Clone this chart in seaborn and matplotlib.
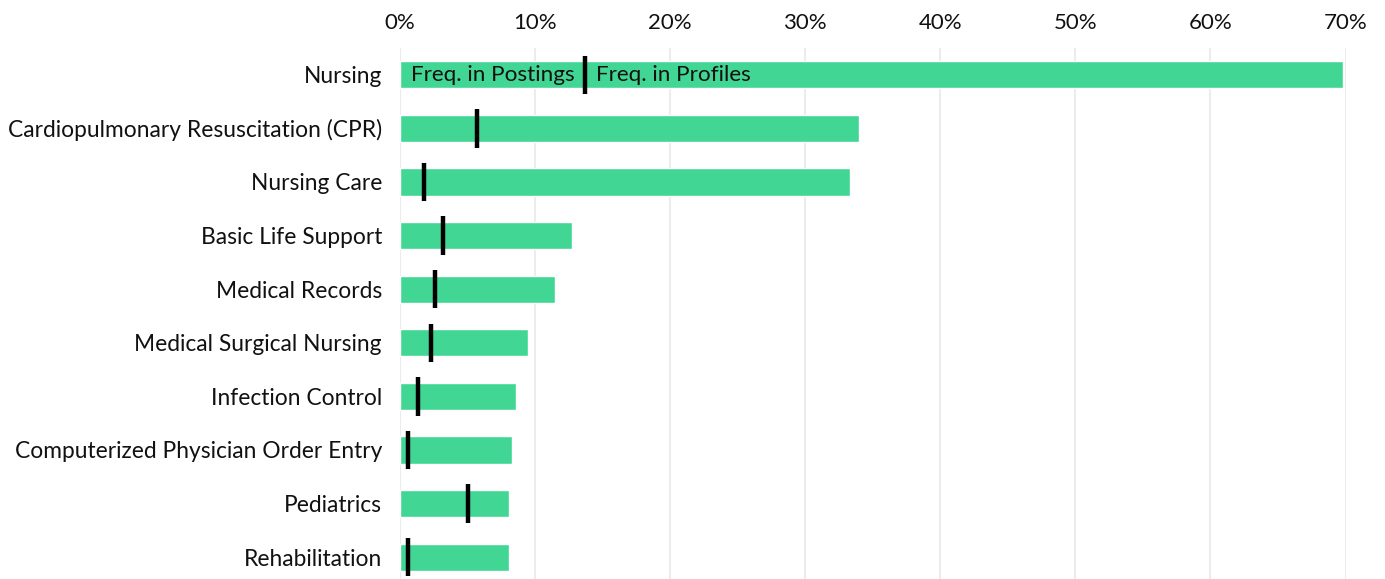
import pandas as pd
import seaborn as sns
import matplotlib.pyplot as plt
from matplotlib.ticker import PercentFormatter

skills = ["Nursing", "Cardiopulmonary Resuscitation (CPR)", "Nursing Care",
          "Basic Life Support", "Medical Records", "Medical Surgical Nursing",
          "Infection Control", "Computerized Physician Order Entry",
          "Pediatrics", "Rehabilitation"]
freq_profiles = [69.8, 34.0, 33.3, 12.7, 11.5, 9.5, 8.6, 8.3, 8.1, 8.1]
freq_postings = [13.7, 5.7, 1.8, 3.2, 2.6, 2.3, 1.3, 0.6, 5.0, 0.6]

df = pd.DataFrame({"skill": skills, "profiles": freq_profiles, "postings": freq_postings})

sns.set_theme(style="white")
plt.rcParams["font.family"] = ["Lato", "DejaVu Sans"]

fig = plt.figure(figsize=(13.85, 5.79), dpi=100)
ax = fig.add_axes([400 / 1385, -5 / 579, 945.5 / 1385, 536 / 579])

sns.barplot(data=df, x="profiles", y="skill", color="#41d693", saturation=1,
            width=0.51, ax=ax, zorder=2)
# posting markers
ax.vlines(df["postings"], df.index - 0.36, df.index + 0.36, color="black",
          linewidth=3.2, zorder=3)

ax.text(df["postings"][0] - 0.8, 0, "Freq. in Postings", ha="right", va="center",
        fontsize=16.2, color="#111111", zorder=4)
ax.text(df["postings"][0] + 0.8, 0, "Freq. in Profiles", ha="left", va="center",
        fontsize=16.2, color="#111111", zorder=4)

ax.set_xlim(0, 70)
ax.set_ylim(9.5, -0.5)
ax.set_xticks(range(0, 71, 10))
ax.xaxis.set_major_formatter(PercentFormatter(decimals=0))
ax.xaxis.tick_top()
ax.grid(axis="x", color="#ececec", linewidth=1.5, zorder=0)
ax.set_axisbelow(True)
ax.tick_params(axis="both", length=0, colors="#111111")
ax.tick_params(axis="x", pad=11, labelsize=16)
ax.tick_params(axis="y", pad=13, labelsize=16.4)
ax.set_xlabel("")
ax.set_ylabel("")
for s in ax.spines.values():
    s.set_visible(False)

plt.savefig("out.png", dpi=100)
plt.close()
